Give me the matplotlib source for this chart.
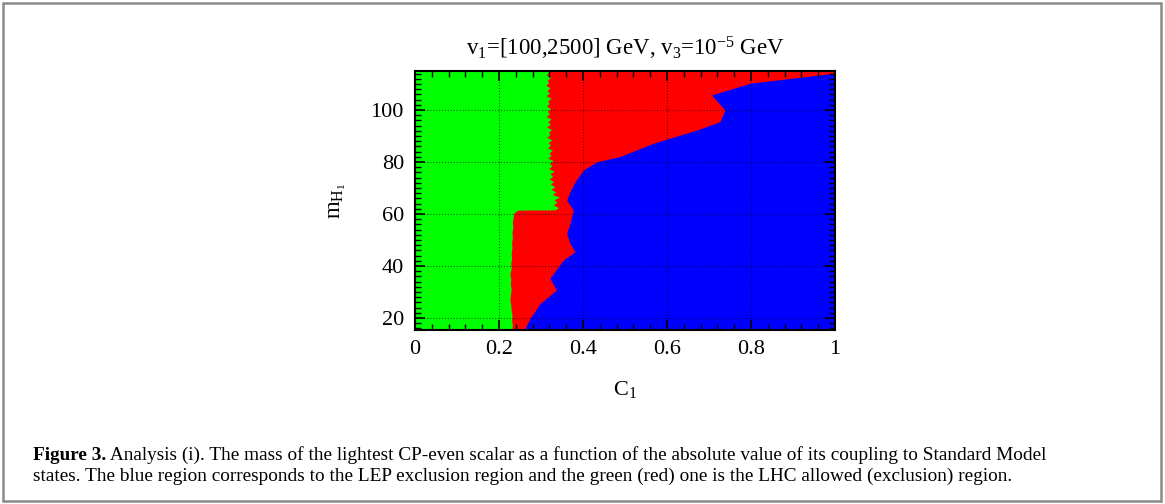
import matplotlib
matplotlib.use('Agg')
import matplotlib.pyplot as plt
from matplotlib.ticker import MultipleLocator, FixedLocator, FixedFormatter
from matplotlib.patches import Rectangle

plt.rcParams['font.family'] = ['Liberation Serif', 'DejaVu Serif']
plt.rcParams['mathtext.fontset'] = 'custom'
plt.rcParams['mathtext.rm'] = 'Liberation Serif'
plt.rcParams['mathtext.it'] = 'Liberation Serif:italic'
plt.rcParams['mathtext.bf'] = 'Liberation Serif:bold'

# ---------------- data ----------------
# green (LHC allowed) region: from C1 = 0 up to this edge
mass_green = [15.4, 17, 19, 21, 23, 25, 27, 29, 31, 33, 35, 37, 39, 41, 43, 45,
              47, 49, 51, 53, 55, 57, 59, 60.5, 61.5,
              61.6, 62.5, 63.5, 64.5, 65.5, 66.5, 67.5, 68.5, 69.5, 70.5, 71.5,
              72.5, 73.5, 74.5, 75.5, 76.5, 77.5, 78.5, 79.5, 80.5, 81.5, 82.5,
              83.5, 84.5, 85.5, 86.5, 87.5, 88.5, 89.5, 90.5, 91.5, 92.5, 93.5,
              94.5, 95.5, 96.5, 97.5, 98.5, 99.5, 100.5, 101.5, 102.5, 103.5,
              104.5, 105.5, 106.5, 107.5, 108.5, 109.5, 110.5, 111.5, 112.5,
              113.5, 114.5, 115]
c1_green_edge = [0.229, 0.232, 0.230, 0.231, 0.229, 0.228, 0.226, 0.227, 0.229,
                 0.227, 0.228, 0.226, 0.229, 0.228, 0.230, 0.229, 0.231, 0.230,
                 0.232, 0.231, 0.233, 0.232, 0.234, 0.236, 0.245,
                 0.334, 0.342, 0.329, 0.338, 0.331, 0.344, 0.327, 0.335, 0.324,
                 0.333, 0.322, 0.330, 0.319, 0.328, 0.321, 0.331, 0.318, 0.326,
                 0.320, 0.329, 0.316, 0.324, 0.319, 0.327, 0.315, 0.323, 0.317,
                 0.326, 0.314, 0.321, 0.318, 0.325, 0.313, 0.322, 0.316, 0.324,
                 0.312, 0.320, 0.315, 0.323, 0.313, 0.319, 0.316, 0.324, 0.312,
                 0.320, 0.314, 0.322, 0.311, 0.318, 0.315, 0.323, 0.312, 0.319,
                 0.316]

# blue (LEP exclusion) region: from this edge up to C1 = 1
mass_blue = [15.4, 16.0, 19.9, 25.6, 30.8, 35.3, 42.3, 45.5, 48.7, 52.6, 56.4,
             61.5, 65.4, 68.6, 72.4, 76.9, 80.1, 82.1, 87.2, 92.3, 95.5, 100.0,
             105.8, 110.3, 114.1, 115.0]
c1_blue_edge = [0.258, 0.262, 0.274, 0.298, 0.337, 0.321, 0.353, 0.381, 0.369,
                0.361, 0.369, 0.377, 0.361, 0.369, 0.381, 0.401, 0.433, 0.488,
                0.567, 0.671, 0.726, 0.738, 0.706, 0.798, 0.995, 1.0]

# red (LHC exclusion) region fills the rest of the scanned plane
mass_range = [15.4, 115.0]
c1_range = [0.0, 1.0]

x_ticks = [0, 0.2, 0.4, 0.6, 0.8, 1.0]
x_tick_labels = ['0', '0.2', '0.4', '0.6', '0.8', '1']
y_ticks = [20, 40, 60, 80, 100]
y_tick_labels = ['20', '40', '60', '80', '100']

title = r'v$_1$=[100,2500] GeV, v$_3$=10$^{-5}$ GeV'
xlabel = r'C$_1$'
ylabel = r'$\mathrm{m_{H_1}}$'
caption_bold = 'Figure 3.'
caption_line1 = (' Analysis (i). The mass of the lightest CP-even scalar as a function '
                 'of the absolute value of its coupling to Standard Model')
caption_line2 = ('states. The blue region corresponds to the LEP exclusion region and '
                 'the green (red) one is the LHC allowed (exclusion) region.')

# ---------------- figure ----------------
W, H = 1165, 504
fig = plt.figure(figsize=(W / 100, H / 100), dpi=100)
ax = fig.add_axes([415 / W, 1 - 330 / H, 420 / W, 259 / H])

ax.fill_betweenx(mass_range, c1_range[0], c1_range[1], color='#ff0000',
                 linewidth=0, zorder=1)
ax.fill_betweenx(mass_green, 0, c1_green_edge, color='#00ff00', linewidth=0,
                 zorder=1.1)
ax.fill_betweenx(mass_blue, c1_blue_edge, 1, color='#0000ff', linewidth=0,
                 zorder=1.2)

ax.set_xlim(c1_range)
ax.set_ylim(mass_range)

ax.xaxis.set_major_locator(FixedLocator(x_ticks))
ax.xaxis.set_major_formatter(FixedFormatter(x_tick_labels))
ax.yaxis.set_major_locator(FixedLocator(y_ticks))
ax.yaxis.set_major_formatter(FixedFormatter(y_tick_labels))
ax.xaxis.set_minor_locator(MultipleLocator(0.04))
ax.yaxis.set_minor_locator(MultipleLocator(2))

ax.tick_params(which='both', direction='in', top=True, right=True,
               colors='black', labelsize=16)
ax.tick_params(which='major', length=7, width=1.2)
ax.tick_params(which='minor', length=4, width=1.0)
ax.tick_params(axis='x', pad=7)
ax.tick_params(axis='y', pad=8)

ax.grid(True, which='major', linestyle=':', color='black', linewidth=0.8,
        alpha=0.6, zorder=2)
for s in ax.spines.values():
    s.set_linewidth(1.5)
    s.set_zorder(5)

ax.set_title(title, fontsize=16.5, pad=11.5)
ax.set_xlabel(xlabel, fontsize=16)
ax.xaxis.set_label_coords(0.5, -0.19)
ax.set_ylabel(ylabel, fontsize=16.5)
ax.yaxis.set_label_coords(-0.16, 0.5)

# outer frame
fig.patches.append(Rectangle((3 / W, 3 / H), 1 - 7 / W, 1 - 6 / H,
                             transform=fig.transFigure, fill=False,
                             edgecolor='#8a8a8a', linewidth=1.8))

# caption
renderer = fig.canvas.get_renderer()
x0 = 33 / W
fs = 11.0
tb = fig.text(x0, 1 - 460 / H, caption_bold, fontweight='bold', fontsize=fs,
              va='baseline', ha='left')
t1 = fig.text(x0, 1 - 460 / H, caption_line1, fontsize=fs, va='baseline',
              ha='left')
t2 = fig.text(x0, 1 - 481 / H, caption_line2, fontsize=fs, va='baseline',
              ha='left')

def layout(fsize):
    for t in (tb, t1, t2):
        t.set_fontsize(fsize)
    bb = tb.get_window_extent(renderer)
    t1.set_x(bb.x1 / W)
    bb1 = t1.get_window_extent(renderer)
    return bb1.x1 - bb.x0

target = 1050 - 33
for _ in range(3):
    w = layout(fs)
    fs = fs * target / w
layout(fs)

fig.savefig('out.png', dpi=100)
